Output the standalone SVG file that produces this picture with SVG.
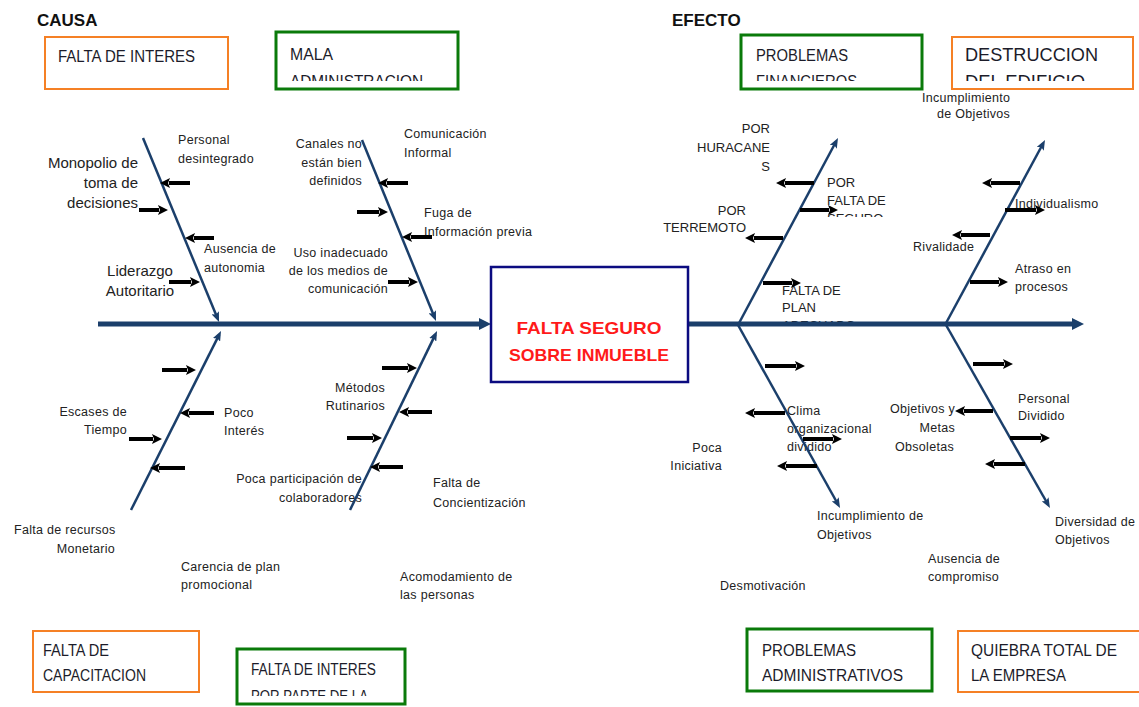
<svg xmlns="http://www.w3.org/2000/svg" width="1139" height="707" viewBox="0 0 1139 707">
<style>
.lbl{font-family:"Liberation Sans",Arial,sans-serif;font-size:12.5px;letter-spacing:0.3px;fill:#222}
.big{font-size:15px;letter-spacing:0}
.cap{font-size:13px;letter-spacing:0}
.end{text-anchor:end}
.mid{text-anchor:middle}
.hdr{font-family:"Liberation Sans",Arial,sans-serif;font-weight:bold;font-size:17px;fill:#111}
.bo{fill:#fff;stroke:#F58025;stroke-width:2}
.bg{fill:#fff;stroke:#0A7A0A;stroke-width:3}
.bt{font-family:"Liberation Sans",Arial,sans-serif;font-size:16px;fill:#1c1c2a}
.ctr{font-family:"Liberation Sans",Arial,sans-serif;font-weight:bold;font-size:17px;fill:#FF1A1A;text-anchor:middle}
.spine{stroke:#1B3F6B;stroke-width:5;fill:none;marker-end:url(#sh)}
.bone{stroke:#1B3F6B;stroke-width:2.5;fill:none;marker-end:url(#bh)}
.sa{stroke:#000;stroke-width:4;fill:none;marker-end:url(#ah)}
</style>
<defs>
<marker id="sh" viewBox="0 0 12 12" markerWidth="12" markerHeight="12" refX="2" refY="6" orient="auto" markerUnits="userSpaceOnUse"><path d="M0,0 L12,6 L0,12 Z" fill="#1B3F6B"/></marker>
<marker id="bh" viewBox="0 0 10 8" markerWidth="10" markerHeight="8" refX="6" refY="4" orient="auto" markerUnits="userSpaceOnUse"><path d="M0,0 L10,4 L0,8 L2,4 Z" fill="#1B3F6B"/></marker>
<marker id="ah" viewBox="0 0 10 10" markerWidth="10" markerHeight="10" refX="1" refY="5" orient="auto" markerUnits="userSpaceOnUse"><path d="M0,0 L10,5 L0,10 L2,5 Z" fill="#000"/></marker>
<clipPath id="c1"><rect x="276" y="32" width="182" height="49"/></clipPath>
<clipPath id="c2"><rect x="741" y="35" width="181" height="46"/></clipPath>
<clipPath id="c3"><rect x="951" y="37" width="183" height="44"/></clipPath>
<clipPath id="c4"><rect x="237" y="649" width="168" height="47"/></clipPath>
<clipPath id="c5"><rect x="800" y="170" width="100" height="47"/></clipPath>
<clipPath id="c6"><rect x="770" y="280" width="100" height="46"/></clipPath>
</defs>
<rect width="1139" height="707" fill="#fff"/>

<g id="titles">
<text class="hdr" x="37" y="26">CAUSA</text>
<text class="hdr" x="672" y="26">EFECTO</text>
</g>

<g id="box-falta-interes">
<rect class="bo" x="45" y="37" width="183" height="52"/>
<text class="bt" x="58" y="62" textLength="137" lengthAdjust="spacingAndGlyphs">FALTA DE INTERES</text>
</g>
<g id="box-mala-admin">
<rect class="bg" x="276" y="32" width="182" height="57"/>
<text class="bt" x="290" y="60" textLength="43" lengthAdjust="spacingAndGlyphs">MALA</text>
<text class="bt" x="290" y="87" textLength="133" lengthAdjust="spacingAndGlyphs" clip-path="url(#c1)">ADMINISTRACION</text>
</g>
<g id="box-problemas-fin">
<rect class="bg" x="741" y="35" width="181" height="54"/>
<text class="bt" x="756" y="61" textLength="92" lengthAdjust="spacingAndGlyphs">PROBLEMAS</text>
<text class="bt" x="756" y="87" textLength="101" lengthAdjust="spacingAndGlyphs" clip-path="url(#c2)">FINANCIEROS</text>
</g>
<g id="box-destruccion">
<rect class="bo" x="952" y="37" width="181" height="52"/>
<text class="bt" x="965" y="61" textLength="133" lengthAdjust="spacingAndGlyphs" style="font-size:18px">DESTRUCCION</text>
<text class="bt" x="965" y="88" textLength="120" lengthAdjust="spacingAndGlyphs" style="font-size:18px" clip-path="url(#c3)">DEL EDIFICIO</text>
</g>
<g id="box-capacitacion">
<rect class="bo" x="33" y="631" width="166" height="61"/>
<text class="bt" x="43" y="656" textLength="66" lengthAdjust="spacingAndGlyphs">FALTA DE</text>
<text class="bt" x="43" y="681" textLength="103" lengthAdjust="spacingAndGlyphs">CAPACITACION</text>
</g>
<g id="box-interes-parte">
<rect class="bg" x="237" y="649" width="168" height="55"/>
<text class="bt" x="251" y="675" textLength="125" lengthAdjust="spacingAndGlyphs">FALTA DE INTERES</text>
<text class="bt" x="251" y="702" textLength="117" lengthAdjust="spacingAndGlyphs" clip-path="url(#c4)">POR PARTE DE LA</text>
</g>
<g id="box-problemas-adm">
<rect class="bg" x="747" y="629" width="185" height="62"/>
<text class="bt" x="762" y="656" textLength="94" lengthAdjust="spacingAndGlyphs">PROBLEMAS</text>
<text class="bt" x="762" y="681" textLength="141" lengthAdjust="spacingAndGlyphs">ADMINISTRATIVOS</text>
</g>
<g id="box-quiebra">
<rect class="bo" x="958" y="631" width="190" height="61"/>
<text class="bt" x="971" y="656" textLength="146" lengthAdjust="spacingAndGlyphs">QUIEBRA TOTAL DE</text>
<text class="bt" x="971" y="681" textLength="95" lengthAdjust="spacingAndGlyphs">LA EMPRESA</text>
</g>

<g id="labels-causa-superior">
<text class="lbl" x="178" y="144">Personal</text>
<text class="lbl" x="178" y="163">desintegrado</text>
<text class="lbl big end" x="138" y="168">Monopolio de</text>
<text class="lbl big end" x="138" y="188">toma de</text>
<text class="lbl big end" x="138" y="208">decisiones</text>
<text class="lbl" x="204" y="253">Ausencia de</text>
<text class="lbl" x="204" y="272">autonomia</text>
<text class="lbl big mid" x="140" y="276">Liderazgo</text>
<text class="lbl big mid" x="140" y="296">Autoritario</text>
<text class="lbl" x="404" y="138">Comunicación</text>
<text class="lbl" x="404" y="157">Informal</text>
<text class="lbl end" x="362" y="148">Canales no</text>
<text class="lbl end" x="362" y="167">están bien</text>
<text class="lbl end" x="362" y="185">definidos</text>
<text class="lbl" x="424" y="217">Fuga de</text>
<text class="lbl" x="424" y="236">Información previa</text>
<text class="lbl end" x="388" y="257">Uso inadecuado</text>
<text class="lbl end" x="388" y="275">de los medios de</text>
<text class="lbl end" x="388" y="293">comunicación</text>
</g>

<g id="labels-causa-inferior">
<text class="lbl end" x="127" y="416">Escases de</text>
<text class="lbl end" x="127" y="434">Tiempo</text>
<text class="lbl" x="224" y="417">Poco</text>
<text class="lbl" x="224" y="435">Interés</text>
<text class="lbl" x="14" y="534">Falta de recursos</text>
<text class="lbl end" x="115" y="553">Monetario</text>
<text class="lbl" x="181" y="571">Carencia de plan</text>
<text class="lbl" x="181" y="589">promocional</text>
<text class="lbl end" x="385" y="392">Métodos</text>
<text class="lbl end" x="385" y="410">Rutinarios</text>
<text class="lbl end" x="362" y="483">Poca participación de</text>
<text class="lbl end" x="362" y="502">colaboradores</text>
<text class="lbl" x="433" y="487">Falta de</text>
<text class="lbl" x="433" y="507">Concientización</text>
<text class="lbl" x="400" y="581">Acomodamiento de</text>
<text class="lbl" x="400" y="599">las personas</text>
</g>

<g id="labels-efecto-superior">
<text class="lbl cap end" x="770" y="133">POR</text>
<text class="lbl cap end" x="770" y="152">HURACANE</text>
<text class="lbl cap end" x="770" y="171">S</text>
<g clip-path="url(#c5)">
<text class="lbl cap" x="827" y="187">POR</text>
<text class="lbl cap" x="827" y="205">FALTA DE</text>
<text class="lbl cap" x="827" y="223">SEGURO</text>
</g>
<text class="lbl cap end" x="746" y="215">POR</text>
<text class="lbl cap end" x="746" y="232">TERREMOTO</text>
<g clip-path="url(#c6)">
<text class="lbl cap" x="782" y="295">FALTA DE</text>
<text class="lbl cap" x="782" y="312">PLAN</text>
<text class="lbl cap" x="782" y="330">ADECUADO</text>
</g>
<text class="lbl" x="922" y="102">Incumplimiento</text>
<text class="lbl" x="937" y="118">de Objetivos</text>
<text class="lbl" x="1015" y="208">Individualismo</text>
<text class="lbl" x="913" y="251">Rivalidade</text>
<text class="lbl" x="1015" y="273">Atraso en</text>
<text class="lbl" x="1015" y="291">procesos</text>
</g>

<g id="labels-efecto-inferior">
<text class="lbl" x="787" y="415">Clima</text>
<text class="lbl" x="787" y="433">organizacional</text>
<text class="lbl" x="787" y="451">dividido</text>
<text class="lbl end" x="722" y="452">Poca</text>
<text class="lbl end" x="722" y="470">Iniciativa</text>
<text class="lbl" x="817" y="520">Incumplimiento de</text>
<text class="lbl" x="817" y="539">Objetivos</text>
<text class="lbl" x="720" y="590">Desmotivación</text>
<text class="lbl" x="1018" y="403">Personal</text>
<text class="lbl" x="1018" y="420">Dividido</text>
<text class="lbl" x="890" y="413">Objetivos y</text>
<text class="lbl end" x="955" y="432">Metas</text>
<text class="lbl" x="895" y="451">Obsoletas</text>
<text class="lbl" x="1055" y="526">Diversidad de</text>
<text class="lbl" x="1055" y="544">Objetivos</text>
<text class="lbl" x="928" y="563">Ausencia de</text>
<text class="lbl" x="928" y="581">compromiso</text>
</g>

<g id="connectors">
<line class="spine" x1="98" y1="324" x2="481" y2="324"/>
<line class="spine" x1="688" y1="324" x2="1074" y2="324"/>
<line class="bone" x1="143" y1="138" x2="217.5" y2="318.3"/>
<line class="bone" x1="362" y1="140" x2="434.5" y2="317.3"/>
<line class="bone" x1="131" y1="510" x2="219.2" y2="334.6"/>
<line class="bone" x1="350" y1="510" x2="435.3" y2="334.6"/>
<line class="bone" x1="738" y1="325" x2="836.1" y2="141.5"/>
<line class="bone" x1="945" y1="325" x2="1043.1" y2="143.5"/>
<line class="bone" x1="738" y1="325" x2="838.1" y2="504.5"/>
<line class="bone" x1="946" y1="325" x2="1048" y2="504.5"/>
<line class="sa" x1="190" y1="183" x2="169" y2="183"/>
<line class="sa" x1="139" y1="210" x2="159" y2="210"/>
<line class="sa" x1="214" y1="238" x2="194" y2="238"/>
<line class="sa" x1="169" y1="282" x2="191" y2="282"/>
<line class="sa" x1="408" y1="183" x2="387" y2="183"/>
<line class="sa" x1="357" y1="212" x2="379" y2="212"/>
<line class="sa" x1="432" y1="237" x2="411" y2="237"/>
<line class="sa" x1="388" y1="282" x2="409" y2="282"/>
<line class="sa" x1="162" y1="370" x2="187" y2="370"/>
<line class="sa" x1="214" y1="413" x2="189" y2="413"/>
<line class="sa" x1="129" y1="439" x2="153" y2="439"/>
<line class="sa" x1="185" y1="468" x2="159" y2="468"/>
<line class="sa" x1="382" y1="368" x2="408" y2="368"/>
<line class="sa" x1="432" y1="412" x2="408" y2="412"/>
<line class="sa" x1="347" y1="438" x2="373" y2="438"/>
<line class="sa" x1="403" y1="467" x2="379" y2="467"/>
<line class="sa" x1="814" y1="183" x2="785" y2="183"/>
<line class="sa" x1="800" y1="210" x2="829" y2="210"/>
<line class="sa" x1="783" y1="238" x2="754" y2="238"/>
<line class="sa" x1="763" y1="283" x2="792" y2="283"/>
<line class="sa" x1="1020" y1="183" x2="991" y2="183"/>
<line class="sa" x1="1005" y1="210" x2="1036" y2="210"/>
<line class="sa" x1="990" y1="235" x2="961" y2="235"/>
<line class="sa" x1="970" y1="282" x2="999" y2="282"/>
<line class="sa" x1="765" y1="366" x2="796" y2="366"/>
<line class="sa" x1="785" y1="413" x2="754" y2="413"/>
<line class="sa" x1="803" y1="439" x2="833" y2="439"/>
<line class="sa" x1="817" y1="466" x2="786" y2="466"/>
<line class="sa" x1="973" y1="364" x2="1004" y2="364"/>
<line class="sa" x1="993" y1="411" x2="964" y2="411"/>
<line class="sa" x1="1010" y1="438" x2="1041" y2="438"/>
<line class="sa" x1="1025" y1="464" x2="994" y2="464"/>
</g>

<g id="problema-central">
<rect x="491" y="267" width="197" height="115" fill="#fff" stroke="#0B0B80" stroke-width="2.5"/>
<text class="ctr" x="589" y="334" textLength="145" lengthAdjust="spacingAndGlyphs">FALTA SEGURO</text>
<text class="ctr" x="589" y="361" textLength="160" lengthAdjust="spacingAndGlyphs">SOBRE INMUEBLE</text>
</g>
</svg>
